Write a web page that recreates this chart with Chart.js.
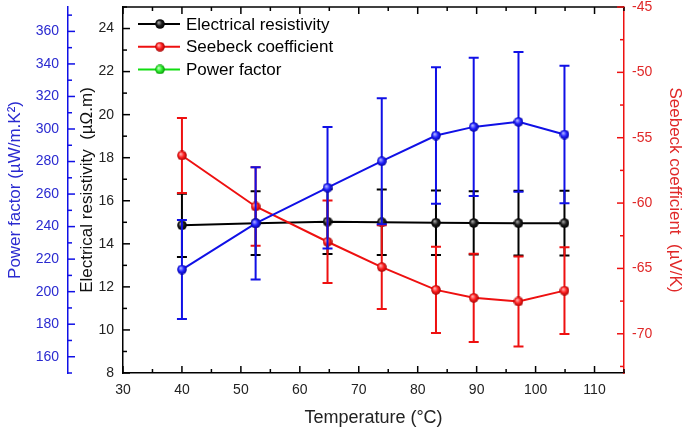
<!DOCTYPE html>
<html>
<head>
<meta charset="utf-8">
<script src="https://cdn.jsdelivr.net/npm/chart.js@4.4.0/dist/chart.umd.min.js"></script>
<style>
  body { margin: 0; background: #fff; }
  canvas { display: block; }
</style>
</head>
<body>
<canvas id="thermoChart" width="685" height="429"></canvas>
<script>
// values
const temperature = [40, 52.5, 64.7, 73.9, 83.1, 89.5, 97.1, 104.9];
const resistivity = [14.86, 14.96, 15.03, 15.0, 14.98, 14.97, 14.96, 14.96];
const resistivityErr = [1.47, 1.48, 1.5, 1.52, 1.5, 1.47, 1.5, 1.5];
const seebeck = [-56.36, -60.26, -62.96, -64.9, -66.64, -67.25, -67.53, -66.7];
const seebeckErr = [2.86, 3.0, 3.16, 3.2, 3.3, 3.37, 3.45, 3.32];
const powerFactor = [213.6, 242, 263.9, 280.2, 296, 301.3, 304.4, 296.6];
const powerFactorErr = [30.4, 34.5, 37.4, 38.7, 42, 42.5, 43, 42.3];

const xTicks = [30, 40, 50, 60, 70, 80, 90, 100, 110];
const resTicks = [8, 10, 12, 14, 16, 18, 20, 22, 24];
const pfTicks = [160, 180, 200, 220, 240, 260, 280, 300, 320, 340, 360];
const sbTicks = [-70, -65, -60, -55, -50, -45];

const legendNames = ['Electrical resistivity', 'Seebeck coefficient', 'Power factor'];

const FONT = '"Liberation Sans", Arial, sans-serif';
const BLUE = '#1010e6';
const RED = '#ee1010';
const GREEN = '#10dd10';

function ball(light, base, dark) {
  const c = document.createElement('canvas');
  c.width = 10; c.height = 10;
  const g = c.getContext('2d');
  const grad = g.createRadialGradient(3.6, 3.4, 0.4, 5, 5, 5);
  grad.addColorStop(0, light);
  grad.addColorStop(0.5, base);
  grad.addColorStop(1, dark);
  g.fillStyle = grad;
  g.beginPath();
  g.arc(5, 5, 4.8, 0, Math.PI * 2);
  g.fill();
  return c;
}

const blackBall = ball('#a0a0a0', '#1c1c1c', '#000000');
const redBall = ball('#ffb0b0', '#ff2020', '#a00000');
const blueBall = ball('#b0b4ff', '#2424ff', '#0000a0');
const greenBall = ball('#c0ffc0', '#30ee30', '#009000');

function pts(ys) {
  return temperature.map((t, i) => ({ x: t, y: ys[i] }));
}

// error bars drawn under each dataset through its own y scale
const errorBars = {
  id: 'errorBars',
  beforeDatasetDraw(chart, args) {
    const ds = chart.data.datasets[args.index];
    if (!ds.errors) return;
    const yScale = chart.scales[args.meta.yAxisID];
    const ctx = chart.ctx;
    ctx.save();
    ctx.strokeStyle = ds.borderColor;
    ctx.lineWidth = 2;
    args.meta.data.forEach((p, i) => {
      const v = ds.data[i].y;
      const top = yScale.getPixelForValue(v + ds.errors[i]);
      const bot = yScale.getPixelForValue(v - ds.errors[i]);
      ctx.beginPath();
      ctx.moveTo(p.x, top); ctx.lineTo(p.x, bot);
      ctx.moveTo(p.x - 5, top); ctx.lineTo(p.x + 5, top);
      ctx.moveTo(p.x - 5, bot); ctx.lineTo(p.x + 5, bot);
      ctx.stroke();
    });
    ctx.restore();
  }
};

// inward major/minor tick marks, top frame line and the legend box
const frame = {
  id: 'frame',
  afterDraw(chart) {
    const { ctx, chartArea: a, scales } = chart;
    ctx.save();
    ctx.lineWidth = 1.5;

    function marks(scale, major, pos, sign, color) {
      ctx.strokeStyle = color;
      const half = (major[1] - major[0]) / 2;
      let v = major[0];
      while (v - half >= scale.min - 1e-6) v -= half;
      for (; v <= scale.max + 1e-6; v += half) {
        const isMajor = major.some(m => Math.abs(m - v) < 1e-6);
        const len = isMajor ? 7 : 4;
        const p = scale.getPixelForValue(v);
        ctx.beginPath();
        if (scale.isHorizontal()) {
          ctx.moveTo(p, pos); ctx.lineTo(p, pos + sign * len);
        } else {
          ctx.moveTo(pos, p); ctx.lineTo(pos + sign * len, p);
        }
        ctx.stroke();
      }
    }

    ctx.strokeStyle = '#000';
    ctx.beginPath();
    ctx.moveTo(a.left, a.top); ctx.lineTo(a.right, a.top);
    ctx.stroke();

    marks(scales.x, xTicks, a.bottom, -1, '#000');
    marks(scales.x, xTicks, a.top, 1, '#000');
    marks(scales.yRes, resTicks, a.left, 1, '#000');
    marks(scales.yPF, pfTicks, scales.yPF.right, 1, BLUE);
    marks(scales.ySb, sbTicks, a.right, -1, RED);

    // legend
    const colors = ['#000', RED, GREEN];
    const balls = [blackBall, redBall, greenBall];
    ctx.font = '17px ' + FONT;
    ctx.textBaseline = 'middle';
    ctx.fillStyle = '#000';
    legendNames.forEach((name, i) => {
      const y = 24 + i * 22.7;
      ctx.strokeStyle = colors[i];
      ctx.lineWidth = 2;
      ctx.beginPath();
      ctx.moveTo(138, y); ctx.lineTo(180, y);
      ctx.stroke();
      ctx.drawImage(balls[i], 155, y - 5);
      ctx.fillText(name, 186, y + 1);
    });
    ctx.restore();
  }
};

function setTicks(list) {
  return scale => { scale.ticks = list.map(v => ({ value: v })); };
}

function fixWidth(w) {
  return scale => { scale.width = w; scale.paddingTop = 0; scale.paddingBottom = 0; };
}

const noGrid = { display: false, drawTicks: false };

const ctx = document.getElementById('thermoChart').getContext('2d');
new Chart(ctx, {
  type: 'line',
  data: {
    datasets: [
      {
        label: 'Electrical resistivity',
        data: pts(resistivity),
        errors: resistivityErr,
        yAxisID: 'yRes',
        borderColor: '#000',
        borderWidth: 2,
        pointStyle: blackBall,
        order: 2
      },
      {
        label: 'Seebeck coefficient',
        data: pts(seebeck),
        errors: seebeckErr,
        yAxisID: 'ySb',
        borderColor: RED,
        borderWidth: 2,
        pointStyle: redBall,
        order: 1
      },
      {
        label: 'Power factor',
        data: pts(powerFactor),
        errors: powerFactorErr,
        yAxisID: 'yPF',
        borderColor: BLUE,
        borderWidth: 2,
        pointStyle: blueBall,
        order: 0
      }
    ]
  },
  options: {
    responsive: false,
    animation: false,
    layout: { padding: { top: 6, left: 0, right: 0, bottom: 0 } },
    elements: { line: { tension: 0 }, point: { radius: 5 } },
    plugins: { legend: { display: false }, tooltip: { enabled: false } },
    scales: {
      x: {
        type: 'linear',
        position: 'bottom',
        min: 30,
        max: 115,
        afterBuildTicks: setTicks(xTicks),
        afterFit: scale => { scale.height = 56; scale.paddingLeft = 0; scale.paddingRight = 0; },
        grid: noGrid,
        border: { display: true, color: '#000', width: 1.5 },
        ticks: { autoSkip: false, maxRotation: 0, padding: 9, color: '#222', font: { family: FONT, size: 14 } },
        title: {
          display: true,
          text: 'Temperature (°C)',
          color: '#222',
          font: { family: FONT, size: 18 },
          padding: { top: 0, bottom: 0 }
        }
      },
      yPF: {
        type: 'linear',
        position: 'left',
        weight: 1,
        min: 150,
        max: 375,
        afterBuildTicks: setTicks(pfTicks),
        afterFit: fixWidth(68),
        grid: noGrid,
        border: { display: true, color: BLUE, width: 1.5 },
        ticks: { padding: 9, color: '#2a2ad0', font: { family: FONT, size: 14 } },
        title: {
          display: true,
          text: 'Power factor (µW/m.K²)',
          color: '#2a2ad0',
          font: { family: FONT, size: 17 },
          padding: { top: 5, bottom: 0 }
        }
      },
      yRes: {
        type: 'linear',
        position: 'left',
        weight: 0,
        min: 8,
        max: 25,
        afterBuildTicks: setTicks(resTicks),
        afterFit: fixWidth(55),
        grid: noGrid,
        border: { display: true, color: '#000', width: 1.5 },
        ticks: { padding: 9, color: '#222', font: { family: FONT, size: 14 } },
        title: {
          display: true,
          text: 'Electrical resistivity  (µΩ.m)',
          color: '#111',
          font: { family: FONT, size: 17 },
          padding: { top: 9, bottom: 0 }
        }
      },
      ySb: {
        type: 'linear',
        position: 'right',
        min: -73,
        max: -45,
        afterBuildTicks: setTicks(sbTicks),
        afterFit: fixWidth(61),
        grid: noGrid,
        border: { display: true, color: RED, width: 1.5 },
        ticks: { padding: 8, color: '#e02828', font: { family: FONT, size: 14 } },
        title: {
          display: true,
          text: 'Seebeck coefficient  (µV/K)',
          color: '#e02828',
          font: { family: FONT, size: 17 },
          padding: { top: 0, bottom: 0 }
        }
      }
    }
  },
  plugins: [errorBars, frame]
});
</script>
</body>
</html>
